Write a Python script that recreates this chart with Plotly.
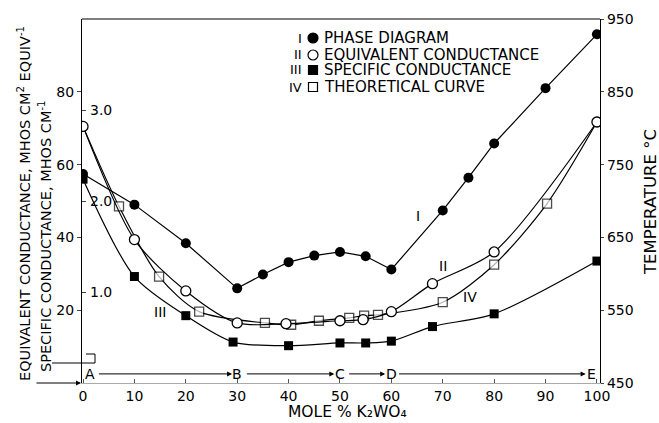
import plotly.graph_objects as go

# ---------------- data ----------------
phase_x = [0, 10, 20, 30, 35, 40, 45, 50, 55, 60, 70, 75, 80, 90, 100]
phase_T = [737, 695, 642, 580, 599, 616, 625, 630, 624, 606, 687, 732, 779, 855, 929]

equiv_x = [0, 10, 20, 30, 39.5, 50, 54.5, 60, 68, 80, 100]
equiv_val = [70.5, 39.4, 25.3, 16.5, 16.3, 17.1, 17.4, 19.6, 27.3, 36.0, 71.7]

spec_x = [0, 10, 20, 29.2, 40, 50, 55, 60, 68, 80, 100]
spec_val = [2.24, 1.17, 0.74, 0.45, 0.41, 0.44, 0.44, 0.46, 0.62, 0.76, 1.34]

theo_x = [0, 7, 14.8, 22.6, 35.4, 40.5, 45.9, 51.8, 54.7, 57.4, 70, 80, 90.3, 100]
theo_val = [70.5, 48.5, 29.2, 19.6, 16.5, 16.0, 17.1, 17.9, 18.5, 18.7, 22.2, 32.5, 49.3, 71.7]
theo_shown = [False] + [True] * 12 + [False]

x_ticks = [0, 10, 20, 30, 40, 50, 60, 70, 80, 90, 100]
equiv_ticks = [20, 40, 60, 80]
temp_ticks = [450, 550, 650, 750, 850, 950]
spec_ticks = [1, 2, 3]
spec_tick_text = ["1.0", "2.0", "3.0"]

stage_labels = ["A", "B", "C", "D", "E"]
stage_x = [1.4, 30, 50, 60, 99.0]
stage_level = 2.5
stage_arrows = [(2.8, 29.0), (31.6, 48.9), (51.5, 58.8), (61.2, 97.8)]

curve_labels = ["I", "II", "III", "IV"]
curve_label_x = [65.2, 70.0, 15.0, 75.3]
curve_label_y = [46.0, 32.2, 19.6, 23.7]

legend_numerals = ["I", "II", "III", "IV"]
legend_names = ["PHASE DIAGRAM", "EQUIVALENT CONDUCTANCE", "SPECIFIC CONDUCTANCE", "THEORETICAL CURVE"]
legend_symbols = ["circle", "circle-white", "square", "square-white"]

# ---------------- layout geometry ----------------
W, H = 659, 423
L, R, T, B = 82, 59, 19, 40
PW, PH = W - L - R, H - T - B
FONT = "DejaVu Sans"


def px(xp):
    return (xp - L) / PW


def py(yp):
    return (H - B - yp) / PH


fig = go.Figure()

lw = 1.2
fig.add_trace(go.Scatter(
    x=theo_x, y=theo_val, mode="lines+markers", yaxis="y",
    line=dict(color="black", width=lw, shape="spline", smoothing=0.8),
    marker=dict(symbol="square", size=[9 if s else 0 for s in theo_shown], color="white",
                line=dict(color="black", width=1.3)),
    showlegend=False, name="THEORETICAL CURVE"))
fig.add_trace(go.Scatter(
    x=equiv_x, y=equiv_val, mode="lines+markers", yaxis="y",
    line=dict(color="black", width=lw, shape="spline", smoothing=0.8),
    marker=dict(symbol="circle", size=10, color="white", line=dict(color="black", width=1.3)),
    showlegend=False, name="EQUIVALENT CONDUCTANCE"))
fig.add_trace(go.Scatter(
    x=spec_x, y=spec_val, mode="lines+markers", yaxis="y3",
    line=dict(color="black", width=lw, shape="spline", smoothing=0.8),
    marker=dict(symbol="square", size=9, color="black"),
    showlegend=False, name="SPECIFIC CONDUCTANCE"))
fig.add_trace(go.Scatter(
    x=phase_x, y=phase_T, mode="lines+markers", yaxis="y2",
    line=dict(color="black", width=lw),
    marker=dict(symbol="circle", size=10, color="black"),
    showlegend=False, name="PHASE DIAGRAM"))

tickfont = dict(family=FONT, size=14, color="black")

fig.update_layout(
    width=W, height=H,
    margin=dict(l=L, r=R, t=T, b=B, pad=0),
    paper_bgcolor="white", plot_bgcolor="white",
    font=dict(family=FONT, color="black"),
    xaxis=dict(range=[-0.2, 100.6], tickvals=x_ticks, ticks="inside", ticklen=4,
               tickcolor="#555", showgrid=False, zeroline=False, showline=True,
               linecolor="#aaa", linewidth=1, automargin=False,
               tickfont=dict(family=FONT, size=14, color="black")),
    yaxis=dict(range=[0, 100], tickvals=equiv_ticks, ticks="outside", ticklen=4,
               showgrid=False, zeroline=False, showline=True, linecolor="black",
               linewidth=1.2, tickfont=tickfont, automargin=False),
    yaxis2=dict(range=[450, 950], tickvals=temp_ticks, overlaying="y", side="right",
                ticks="outside", ticklen=3, showgrid=False, zeroline=False, showline=True,
                linecolor="black", linewidth=1.2, tickfont=tickfont, automargin=False),
    yaxis3=dict(range=[0, 4], tickvals=spec_ticks, overlaying="y",
                side="left", anchor="x", ticks="inside", ticklen=4, showticklabels=False,
                showgrid=False, zeroline=False, showline=False, automargin=False),
)

shapes = []
# top frame line
shapes.append(dict(type="line", xref="paper", yref="paper", x0=0, x1=1, y0=1, y1=1,
                   line=dict(color="black", width=1.2)))
# bracket pointing at the specific-conductance scale
shapes.append(dict(type="path", xref="paper", yref="paper",
                   path=f"M {px(52)},{py(363)} L {px(95)},{py(363)} L {px(95)},{py(354)} L {px(86)},{py(354)}",
                   line=dict(color="black", width=1)))

# legend keys
row_y = [38, 55, 70, 87]
for sym, yy in zip(legend_symbols, row_y):
    filled = "white" not in sym
    r = 5 if sym.startswith("circle") else 4.5
    shapes.append(dict(type="circle" if sym.startswith("circle") else "rect",
                       xref="paper", yref="paper",
                       x0=px(313 - r), x1=px(313 + r), y0=py(yy + r), y1=py(yy - r),
                       fillcolor="black" if filled else "white",
                       line=dict(color="black", width=1.2)))
fig.update_layout(shapes=shapes)

ann = []
for num, name, yy in zip(legend_numerals, legend_names, row_y):
    ann.append(dict(xref="paper", yref="paper", x=px(304), y=py(yy), text=num, showarrow=False,
                    xanchor="right", yanchor="middle", font=dict(family=FONT, size=13)))
    ann.append(dict(xref="paper", yref="paper", x=px(322), y=py(yy), text=name, showarrow=False,
                    xanchor="left", yanchor="middle", font=dict(family=FONT, size=15)))

# inner specific-conductance scale labels
for v, t in zip(spec_ticks, spec_tick_text):
    ann.append(dict(xref="paper", yref="y3", x=px(88), y=v, text=t, showarrow=False,
                    xanchor="left", yanchor="middle", font=dict(family=FONT, size=14)))

for t, xx, yy in zip(curve_labels, curve_label_x, curve_label_y):
    ann.append(dict(x=xx, y=yy, xref="x", yref="y", text=t, showarrow=False,
                    xanchor="center", yanchor="middle", font=dict(family=FONT, size=14)))

for t, xx in zip(stage_labels, stage_x):
    ann.append(dict(x=xx, y=stage_level, xref="x", yref="y", text=t, showarrow=False,
                    xanchor="center", yanchor="middle", font=dict(family=FONT, size=14)))
for x0, x1 in stage_arrows:
    ann.append(dict(x=x1, y=stage_level, ax=x0, ay=stage_level, xref="x", yref="y",
                    axref="x", ayref="y", text="", showarrow=True, arrowhead=2,
                    arrowsize=1, arrowwidth=1, arrowcolor="black"))

# arrow pointing at the equivalent-conductance axis
ann.append(dict(xref="paper", yref="paper", x=px(81), y=py(383), ax=-46, ay=0, text="",
                showarrow=True, arrowhead=2, arrowsize=1, arrowwidth=1, arrowcolor="black"))

# axis titles
ann.append(dict(xref="paper", yref="paper", x=px(24), y=py(204), textangle=-90,
                xanchor="center", yanchor="middle",
                text="EQUIVALENT CONDUCTANCE, MHOS CM<sup>2</sup> EQUIV<sup>-1</sup>",
                showarrow=False, font=dict(family=FONT, size=14.5)))
ann.append(dict(xref="paper", yref="paper", x=px(45), y=py(236), textangle=-90,
                xanchor="center", yanchor="middle",
                text="SPECIFIC CONDUCTANCE, MHOS CM<sup>-1</sup>",
                showarrow=False, font=dict(family=FONT, size=14.5)))
ann.append(dict(xref="paper", yref="paper", x=px(650), y=py(202), textangle=-90,
                xanchor="center", yanchor="middle",
                text="TEMPERATURE °C", showarrow=False, font=dict(family=FONT, size=16.5)))
ann.append(dict(xref="paper", yref="paper", x=px(347), y=py(412), xanchor="center",
                yanchor="middle",
                text="MOLE % K₂WO₄", showarrow=False,
                font=dict(family=FONT, size=15.5)))

fig.update_layout(annotations=ann)

fig.write_html("out.html", config={"displayModeBar": False},
               post_script="document.body.style.margin='0px';document.body.style.padding='0px';")
